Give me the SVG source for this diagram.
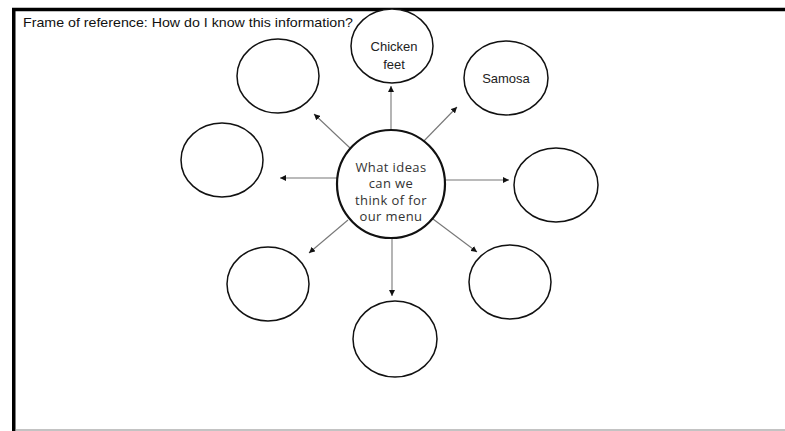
<svg xmlns="http://www.w3.org/2000/svg" width="785" height="431" viewBox="0 0 785 431">
<style>
.node{fill:#fff;stroke:#111;stroke-width:1.5}
.center{fill:#fff;stroke:#111;stroke-width:2.2}
.lbl{font-family:"Liberation Sans",Arial,sans-serif;font-size:13px;fill:#222;text-anchor:middle}
.clbl{font-family:"Open Sans","Liberation Sans",sans-serif;font-size:13px;letter-spacing:0.4px;fill:#333;text-anchor:middle}
.conn{stroke:#777;stroke-width:1.1;fill:none;marker-end:url(#ah)}
</style>
<defs>
<marker id="ah" viewBox="0 0 10 10" refX="10" refY="5" markerWidth="6" markerHeight="6" markerUnits="userSpaceOnUse" orient="auto">
<path d="M0,0 L10,5 L0,10 z" fill="#111"/>
</marker>
</defs>
<rect width="785" height="431" fill="#fff"/>
<g id="frame">
<line x1="12" y1="9.5" x2="785" y2="9.5" stroke="#000" stroke-width="3.5"/>
<line x1="13.75" y1="8" x2="13.75" y2="431" stroke="#000" stroke-width="3.5"/>
<line x1="15" y1="430" x2="785" y2="430" stroke="#888" stroke-width="1.2"/>
</g>
<text id="title" x="23" y="27" font-family="Liberation Sans,Arial,sans-serif" font-size="13" fill="#111" textLength="330" lengthAdjust="spacingAndGlyphs">Frame of reference: How do I know this information?</text>
<g id="connectors">
<line class="conn" x1="391" y1="131" x2="391" y2="86"/>
<line class="conn" x1="421" y1="144" x2="457" y2="107"/>
<line class="conn" x1="350" y1="148" x2="314" y2="114"/>
<line class="conn" x1="338" y1="178" x2="280" y2="178"/>
<line class="conn" x1="444" y1="180" x2="509" y2="180"/>
<line class="conn" x1="348" y1="220" x2="309" y2="253"/>
<line class="conn" x1="392" y1="238" x2="392" y2="296"/>
<line class="conn" x1="433" y1="219" x2="477" y2="252"/>
</g>
<g id="chicken-feet">
<ellipse class="node" cx="392" cy="46" rx="41" ry="37"/>
<text class="lbl" x="394" y="51">Chicken</text>
<text class="lbl" x="394" y="69">feet</text>
</g>
<g id="samosa">
<ellipse class="node" cx="506" cy="78" rx="42" ry="37"/>
<text class="lbl" x="506" y="83">Samosa</text>
</g>
<g id="top-left"><ellipse class="node" cx="278" cy="76" rx="41" ry="37"/></g>
<g id="left"><ellipse class="node" cx="222" cy="160" rx="41" ry="37"/></g>
<g id="right"><ellipse class="node" cx="556" cy="185" rx="42" ry="37"/></g>
<g id="bottom-left"><ellipse class="node" cx="268" cy="284" rx="41" ry="37"/></g>
<g id="bottom"><ellipse class="node" cx="395" cy="339" rx="42" ry="38"/></g>
<g id="bottom-right"><ellipse class="node" cx="510" cy="282" rx="41" ry="37"/></g>
<g id="center">
<circle class="center" cx="391" cy="184" r="54"/>
<text class="clbl" x="391" y="171.5">What ideas</text>
<text class="clbl" x="391" y="188">can we</text>
<text class="clbl" x="391" y="204.5">think of for</text>
<text class="clbl" x="391" y="221">our menu</text>
</g>
</svg>
